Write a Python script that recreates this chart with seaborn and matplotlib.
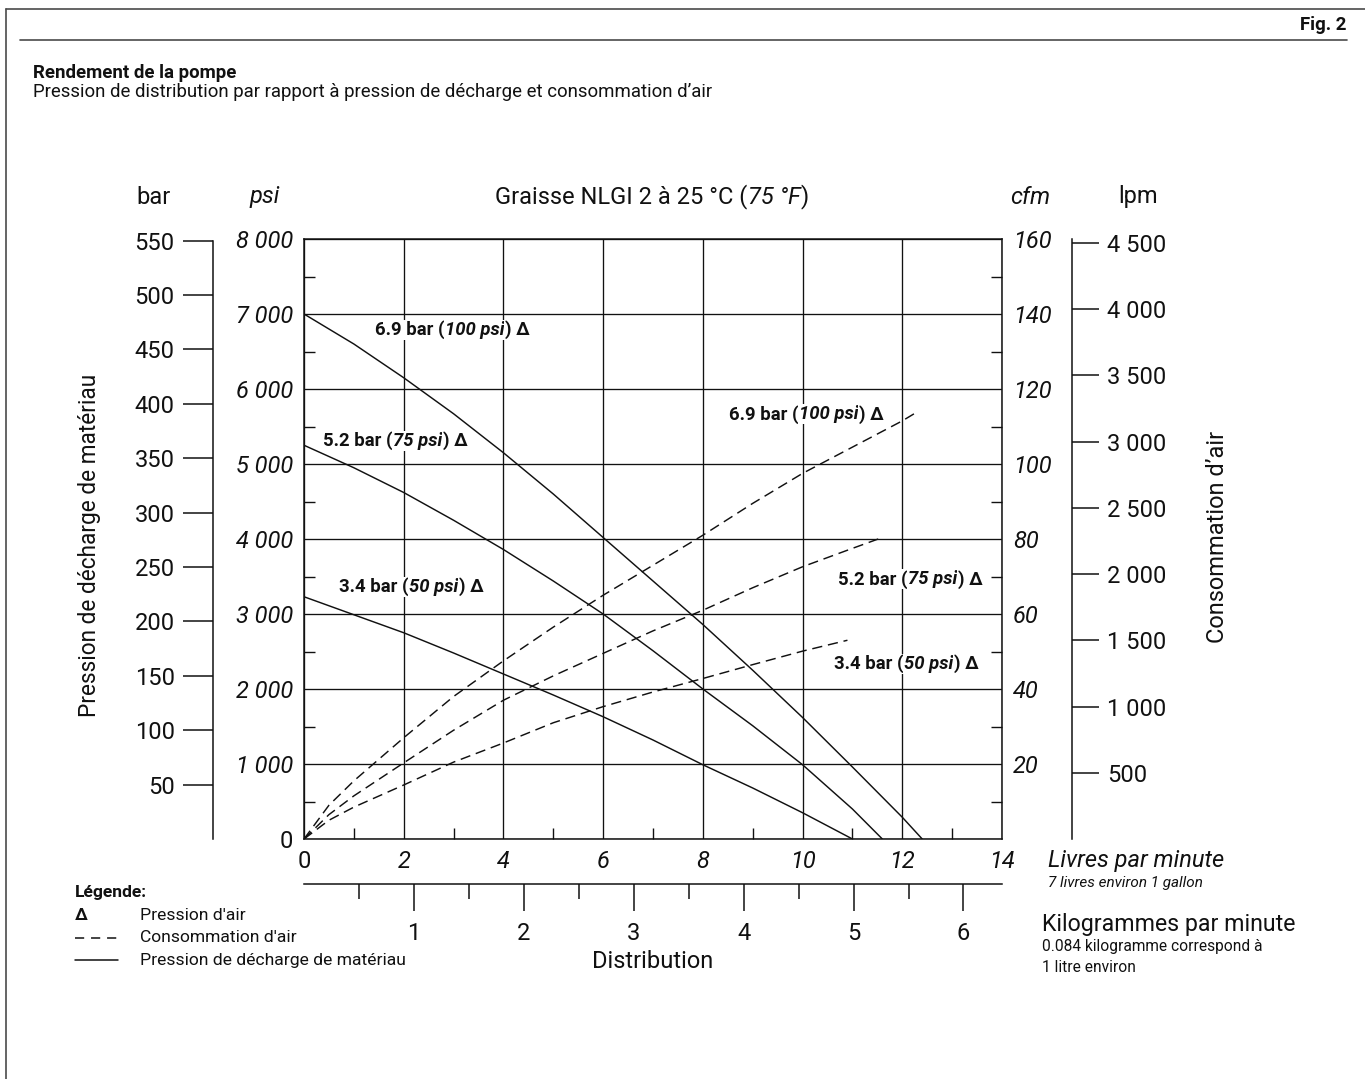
import numpy as np
import pandas as pd
import matplotlib
matplotlib.use("Agg")
import matplotlib.pyplot as plt
import matplotlib.transforms as mtransforms
from matplotlib.lines import Line2D
from matplotlib.ticker import FixedLocator
import seaborn as sns

# ---- Débit de graisse (livres par minute) et pression de décharge (psi) ----
debit_100 = [0, 1, 2, 3, 4, 5, 6, 7, 8, 9, 10, 11, 12, 12.4]
psi_100 = [7000, 6600, 6150, 5670, 5150, 4600, 4020, 3440, 2860, 2250, 1620, 960, 290, 0]

debit_75 = [0, 1, 2, 3, 4, 5, 6, 7, 8, 9, 10, 11, 11.6]
psi_75 = [5250, 4950, 4620, 4250, 3860, 3440, 3000, 2510, 2000, 1510, 990, 400, 0]

debit_50 = [0, 1, 2, 3, 4, 5, 6, 7, 8, 9, 10, 11]
psi_50 = [3230, 2990, 2750, 2480, 2200, 1920, 1630, 1320, 990, 680, 350, 0]

# ---- Consommation d'air (cfm) ----
air_debit_100 = [0, 0.5, 1, 2, 3, 4, 5, 6, 7, 8, 9, 10, 11, 12, 12.25]
cfm_100 = [0, 9, 15.5, 27, 38, 47.5, 56.5, 65, 73, 81, 89.5, 97.5, 104.5, 111.5, 113.5]

air_debit_75 = [0, 0.5, 1, 2, 3, 4, 5, 6, 7, 8, 9, 10, 11, 11.6]
cfm_75 = [0, 6.5, 11.5, 20.3, 29, 37, 43.5, 49.5, 55.5, 61, 67, 72.6, 77.5, 80.4]

air_debit_50 = [0, 0.5, 1, 2, 3, 4, 5, 6, 7, 8, 9, 10, 10.9]
cfm_50 = [0, 5, 8.5, 14.4, 20.5, 25.6, 31, 35.3, 39.2, 42.8, 46.5, 50.1, 53]

# ---- Graduations ----
psi_ticks = [0, 1000, 2000, 3000, 4000, 5000, 6000, 7000, 8000]
psi_labels = ["0", "1 000", "2 000", "3 000", "4 000", "5 000", "6 000", "7 000", "8 000"]
bar_ticks = [50, 100, 150, 200, 250, 300, 350, 400, 450, 500, 550]
cfm_ticks = [20, 40, 60, 80, 100, 120, 140, 160]
lpm_ticks = [500, 1000, 1500, 2000, 2500, 3000, 3500, 4000, 4500]
lpm_labels = ["500", "1 000", "1 500", "2 000", "2 500", "3 000", "3 500", "4 000", "4 500"]
lb_ticks = [0, 2, 4, 6, 8, 10, 12, 14]
kg_ticks = [1, 2, 3, 4, 5, 6]

PSI_PER_BAR = 14.5038
LPM_PER_CFM = 28.3168
LB_PER_KG = 2.20462

sns.set_theme(style="white")
plt.rcParams["font.family"] = ["Roboto", "DejaVu Sans"]
plt.rcParams["axes.unicode_minus"] = False

W, H = 1365, 1079
fig = plt.figure(figsize=(W / 100, H / 100), dpi=100)
fig.patch.set_facecolor("white")


def fx(px):
    return px / W


def fy(py):
    return 1 - py / H


INK = "#111111"
TICK = 17

ax = fig.add_axes([fx(304), fy(839), fx(1002) - fx(304), fy(239) - fy(839)])
ax.set_facecolor("white")

# Courbes de pression de décharge (traits pleins)
for d, p in [(debit_100, psi_100), (debit_75, psi_75), (debit_50, psi_50)]:
    sns.lineplot(x=d, y=p, ax=ax, color=INK, lw=1.05, estimator=None, legend=False)

ax.set_xlim(0, 14)
ax.set_ylim(0, 8000)
for sp in ax.spines.values():
    sp.set_visible(True)
    sp.set_color(INK)
    sp.set_linewidth(1.1)
ax.set_xticks(lb_ticks)
ax.set_xticklabels([str(v) for v in lb_ticks])
ax.set_yticks(psi_ticks)
ax.set_yticklabels(psi_labels)
ax.xaxis.set_minor_locator(FixedLocator(np.arange(1, 14, 2)))
ax.yaxis.set_minor_locator(FixedLocator(np.arange(500, 8000, 1000)))
ax.tick_params(which="major", length=0, labelsize=TICK, colors=INK, pad=8,
               left=True, bottom=True)
ax.tick_params(which="minor", direction="in", length=8, width=1.0, color=INK,
               left=True, bottom=True)
ax.grid(True, which="major", color=INK, lw=0.95)
for lab in ax.get_xticklabels() + ax.get_yticklabels():
    if lab.get_text() != "0":
        lab.set_fontstyle("italic")
ax.set_xlabel("")
ax.set_ylabel("")

# Axe cfm (consommation d'air) et courbes en tirets
ax_cfm = ax.twinx()
for d, c in [(air_debit_100, cfm_100), (air_debit_75, cfm_75), (air_debit_50, cfm_50)]:
    sns.lineplot(x=d, y=c, ax=ax_cfm, color=INK, lw=1.05, estimator=None,
                 legend=False, linestyle=(0, (7, 4)))
ax_cfm.set_ylim(0, 160)
ax_cfm.set_xlim(0, 14)
for sp in ax_cfm.spines.values():
    sp.set_visible(False)
ax_cfm.set_yticks(cfm_ticks)
ax_cfm.set_yticklabels([str(v) for v in cfm_ticks], fontstyle="italic")
ax_cfm.yaxis.set_minor_locator(FixedLocator(np.arange(10, 160, 20)))
ax_cfm.tick_params(axis="y", which="major", length=0, labelsize=TICK, colors=INK,
                   pad=8, right=True, labelright=True, left=False, labelleft=False)
ax_cfm.tick_params(axis="y", which="minor", direction="in", length=8, width=1.0,
                   color=INK, right=True, left=False)
ax_cfm.set_ylabel("")
ax_cfm.grid(False)

# Axe bar (gauche, décalé)
ax_bar = ax.twinx()
ax_bar.set_ylim(0, 8000 / PSI_PER_BAR)
for name, sp in ax_bar.spines.items():
    sp.set_visible(name == "left")
ax_bar.spines["left"].set_position(("axes", (213 - 304) / 698))
ax_bar.spines["left"].set_bounds(0, 550)
ax_bar.spines["left"].set_color(INK)
ax_bar.spines["left"].set_linewidth(1.1)
ax_bar.yaxis.set_ticks_position("left")
ax_bar.set_yticks(bar_ticks)
ax_bar.set_yticklabels([str(v) for v in bar_ticks])
ax_bar.tick_params(axis="y", which="major", direction="out", length=21.6, width=1.1,
                   color=INK, labelsize=TICK, labelcolor=INK, pad=6,
                   left=True, labelleft=True, right=False, labelright=False)
ax_bar.grid(False)

# Axe lpm (droite, décalé)
ax_lpm = ax.twinx()
ax_lpm.set_ylim(0, 160 * LPM_PER_CFM)
for name, sp in ax_lpm.spines.items():
    sp.set_visible(name == "right")
ax_lpm.spines["right"].set_position(("axes", (1072 - 304) / 698))
ax_lpm.spines["right"].set_color(INK)
ax_lpm.spines["right"].set_linewidth(1.1)
ax_lpm.set_yticks(lpm_ticks)
ax_lpm.set_yticklabels(lpm_labels)
ax_lpm.tick_params(axis="y", which="major", direction="out", length=19.5, width=1.1,
                   color=INK, labelsize=TICK, labelcolor=INK, pad=6,
                   right=True, labelright=True, left=False, labelleft=False)
ax_lpm.grid(False)

# Axe kg/min (bas, décalé)
ax_kg = ax.twiny()
ax_kg.set_xlim(0, 14 / LB_PER_KG)
for name, sp in ax_kg.spines.items():
    sp.set_visible(name == "bottom")
ax_kg.spines["bottom"].set_position(("axes", -45 / 600))
ax_kg.spines["bottom"].set_color(INK)
ax_kg.spines["bottom"].set_linewidth(1.1)
ax_kg.xaxis.set_ticks_position("bottom")
ax_kg.set_xticks(kg_ticks)
ax_kg.set_xticklabels([str(v) for v in kg_ticks])
ax_kg.xaxis.set_minor_locator(FixedLocator(np.arange(0.5, 6.0, 1.0)))
ax_kg.tick_params(axis="x", which="major", direction="out", length=19.4, width=1.1,
                  color=INK, labelsize=TICK, labelcolor=INK, pad=8,
                  bottom=True, labelbottom=True, top=False, labeltop=False)
ax_kg.tick_params(axis="x", which="minor", direction="out", length=10.8, width=1.1,
                  color=INK, bottom=True, top=False)
ax_kg.grid(False)

renderer = fig.canvas.get_renderer()


def rich_text(target, x, y, parts, transform, size, weight="bold", va="center", bg=False):
    """Draw consecutive text pieces with their own styles on one baseline."""
    offset = 0.0
    for s, style in parts:
        tr = mtransforms.offset_copy(transform, fig=fig, x=offset, y=0, units="points")
        kw = dict(fontsize=size, fontweight=weight, fontstyle=style, color=INK,
                  ha="left", va=va, transform=tr, zorder=6)
        if bg:
            kw["bbox"] = dict(fc="white", ec="none", pad=0.6)
        t = target.text(x, y, s, **kw)
        offset += t.get_window_extent(renderer).width * 72 / fig.dpi + 0.4


LBL = 13.3
# Étiquettes des courbes de pression
rich_text(ax, 1.42, 6787, [("6.9 bar (", "normal"), ("100 psi", "italic"), (") Δ", "normal")],
          ax.transData, LBL, bg=True)
rich_text(ax, 0.38, 5307, [("5.2 bar (", "normal"), ("75 psi", "italic"), (") Δ", "normal")],
          ax.transData, LBL, bg=True)
rich_text(ax, 0.70, 3360, [("3.4 bar (", "normal"), ("50 psi", "italic"), (") Δ", "normal")],
          ax.transData, LBL, bg=True)
# Étiquettes des courbes de consommation d'air
rich_text(ax_cfm, 8.52, 113.3, [("6.9 bar (", "normal"), ("100 psi", "italic"), (") Δ", "normal")],
          ax_cfm.transData, LBL, bg=True)
rich_text(ax_cfm, 10.71, 69.3, [("5.2 bar (", "normal"), ("75 psi", "italic"), (") Δ", "normal")],
          ax_cfm.transData, LBL, bg=True)
rich_text(ax_cfm, 10.63, 46.7, [("3.4 bar (", "normal"), ("50 psi", "italic"), (") Δ", "normal")],
          ax_cfm.transData, LBL, bg=True)

# En-têtes des axes
fig.text(fx(154), fy(197), "bar", fontsize=TICK, ha="center", va="center", color=INK)
fig.text(fx(265), fy(197), "psi", fontsize=TICK, ha="center", va="center", color=INK,
         fontstyle="italic")
fig.text(fx(1030), fy(197), "cfm", fontsize=TICK, ha="center", va="center", color=INK,
         fontstyle="italic")
fig.text(fx(1138), fy(197), "lpm", fontsize=TICK, ha="center", va="center", color=INK)
rich_text(fig, fx(495), fy(197),
          [("Graisse NLGI 2 à 25 °C (", "normal"), ("75 °F", "italic"), (")", "normal")],
          fig.transFigure, TICK, weight="normal")

fig.text(fx(90), fy(545), "Pression de décharge de matériau", rotation=90,
         fontsize=16.3, ha="center", va="center", color=INK)
fig.text(fx(1217), fy(537), "Consommation d’air", rotation=90,
         fontsize=TICK, ha="center", va="center", color=INK)
fig.text(fx(653), fy(962), "Distribution", fontsize=TICK, ha="center", va="center", color=INK)

# Unités de débit à droite
fig.text(fx(1048), fy(861), "Livres par minute", fontsize=TICK, fontstyle="italic",
         ha="left", va="center", color=INK)
fig.text(fx(1048), fy(883), "7 livres environ 1 gallon", fontsize=11, fontstyle="italic",
         ha="left", va="center", color=INK)
fig.text(fx(1042), fy(925), "Kilogrammes par minute", fontsize=16.7,
         ha="left", va="center", color=INK)
fig.text(fx(1042), fy(947), "0.084 kilogramme correspond à", fontsize=11.2,
         ha="left", va="center", color=INK)
fig.text(fx(1042), fy(967), "1 litre environ", fontsize=11.2,
         ha="left", va="center", color=INK)

# Légende
LEG = 12.6
fig.text(fx(75), fy(892), "Légende:", fontsize=LEG, fontweight="bold",
         ha="left", va="center", color=INK)
fig.text(fx(75), fy(915), "Δ", fontsize=LEG, fontweight="bold",
         ha="left", va="center", color=INK)
fig.text(fx(140), fy(915), "Pression d'air", fontsize=LEG, ha="left", va="center", color=INK)
fig.add_artist(Line2D([fx(75), fx(118)], [fy(938), fy(938)], transform=fig.transFigure,
                      color=INK, lw=1.1, linestyle=(0, (6, 4.5))))
fig.text(fx(140), fy(938), "Consommation d'air", fontsize=LEG, ha="left", va="center", color=INK)
fig.add_artist(Line2D([fx(75), fx(118)], [fy(960), fy(960)], transform=fig.transFigure,
                      color=INK, lw=1.1))
fig.text(fx(140), fy(960), "Pression de décharge de matériau", fontsize=LEG,
         ha="left", va="center", color=INK)

# En-tête de page
FRAME = "#4a4a4a"
fig.add_artist(Line2D([fx(6), fx(6)], [fy(9), 0], transform=fig.transFigure, color=FRAME, lw=1.2))
fig.add_artist(Line2D([fx(6), 1], [fy(9), fy(9)], transform=fig.transFigure, color=FRAME, lw=1.2))
fig.add_artist(Line2D([fx(20), fx(1347)], [fy(40), fy(40)], transform=fig.transFigure,
                      color=FRAME, lw=1.2))
HEAD = 13.4
fig.text(fx(1346), fy(25), "Fig. 2", fontsize=HEAD, fontweight="bold", ha="right", va="center",
         color=INK)
fig.text(fx(33), fy(73), "Rendement de la pompe", fontsize=HEAD, fontweight="bold",
         ha="left", va="center", color=INK)
fig.text(fx(33), fy(92), "Pression de distribution par rapport à pression de décharge et consommation d’air",
         fontsize=HEAD, ha="left", va="center", color=INK)

fig.savefig("out.png", dpi=100, facecolor="white")
